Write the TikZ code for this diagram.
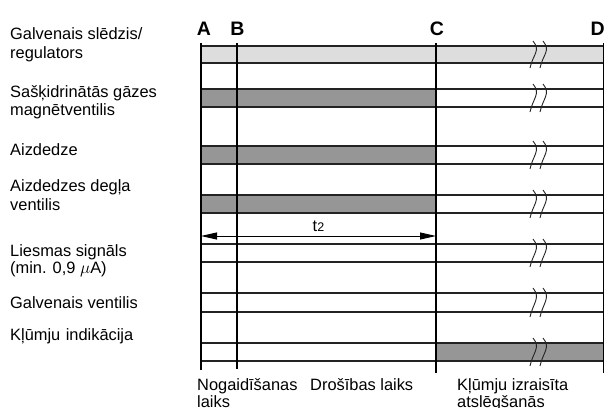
\documentclass[tikz,border=0pt]{standalone}
\usepackage{fontspec}
\setmainfont{Liberation Sans}
\usetikzlibrary{arrows.meta}
\definecolor{barlight}{RGB}{221,221,221}
\definecolor{bardark}{RGB}{150,150,150}
\definecolor{rulecol}{RGB}{35,35,35}

\begin{document}
\begin{tikzpicture}[x=1pt,y=-1pt,
  lbl/.style={anchor=base west,inner sep=0pt,font=\fontsize{16.4}{18}\selectfont},
  phase/.style={anchor=base,inner sep=0pt,font=\bfseries\fontsize{19.5}{21}\selectfont},
  barline/.style={draw=rulecol,line width=1.1pt},
  timeline/.style={draw=black,line width=1.9pt},
  brk/.style={draw=rulecol,line width=0.9pt},
  dimarrow/.style={{Triangle[length=16pt,width=7pt]}-{Triangle[length=16pt,width=7pt]},line width=0.9pt}
]
\useasboundingbox (0,0) rectangle (605,407);

% time marks
\coordinate (Atop) at (201,43);  \coordinate (Abot) at (201,370);
\coordinate (Btop) at (237,43);  \coordinate (Bbot) at (237,369);
\coordinate (Ctop) at (436,43);  \coordinate (Cbot) at (436,373);
\coordinate (Dtop) at (603.5,43);\coordinate (Dbot) at (603.5,373);

% signal bars: filled parts
\fill[barlight] (201,46) rectangle (603.5,63);
\fill[bardark]  (201,89) rectangle (436,107);
\fill[bardark]  (201,146) rectangle (436,164);
\fill[bardark]  (201,195) rectangle (436,213);
\fill[bardark]  (436,343) rectangle (603.5,361);

% signal bars: outlines and break marks
\foreach \t/\b in {46/63,89/107,146/164,195/213,244/262,293/312,343/361}{
  \draw[barline] (201,\t) -- (603.5,\t);
  \draw[barline] (201,\b) -- (603.5,\b);
  \foreach \x in {533,543}{
    \draw[brk] (\x,\t-5) .. controls (\x+8,\t+5) and (\x,\b-9) .. (\x-3,\b+5);
  }
}

% vertical time lines
\draw[timeline] (Atop) -- (Abot);
\draw[timeline] (Btop) -- (Bbot);
\draw[timeline] (Ctop) -- (Cbot);
\draw[timeline] (Dtop) -- (Dbot);

% phase letters
\node[phase] (lA) at (204,35) {A};
\node[phase] (lB) at (237.5,35) {B};
\node[phase] (lC) at (437,35) {C};
\node[phase,anchor=base east] (lD) at (605,35) {D};

% safety time dimension
\coordinate (arL) at (201,236);
\coordinate (arR) at (436,236);
\draw[dimarrow] (arL) -- (arR);
\node[anchor=base,inner sep=0pt,font=\fontsize{16.4}{18}\selectfont] (t2) at (318.5,231.5) {t{\fontsize{12.5}{14}\selectfont 2}};

% signal names
\node[lbl] (n1a) at (10,39.5) {Galvenais slēdzis/};
\node[lbl] (n1b) at (10,58) {regulators};
\node[lbl] (n2a) at (10,97.5) {Sašķidrinātās gāzes};
\node[lbl] (n2b) at (10,115.5) {magnētventilis};
\node[lbl] (n3a) at (10,155) {Aizdedze};
\node[lbl] (n4a) at (10,191.5) {Aizdedzes degļa};
\node[lbl] (n4b) at (10,210.5) {ventilis};
\node[lbl] (n5a) at (10,256) {Liesmas signāls};
\node[lbl] (n5b) at (10,273.5) {(min. 0,9 $\mu$A)};
\node[lbl] (n6a) at (10,308) {Galvenais ventilis};
\node[lbl] (n7a) at (10,340) {Kļūmju\hspace{5.5pt}indikācija};

% phase names
\node[lbl] (p1a) at (197,390) {Nogaidīšanas};
\node[lbl] (p1b) at (197,407.5) {laiks};
\node[lbl] (p2a) at (310,390) {Drošības laiks};
\node[lbl] (p3a) at (457,390) {Kļūmju izraisīta};
\node[lbl] (p3b) at (457,407.5) {atslēgšanās};
\end{tikzpicture}
\end{document}
